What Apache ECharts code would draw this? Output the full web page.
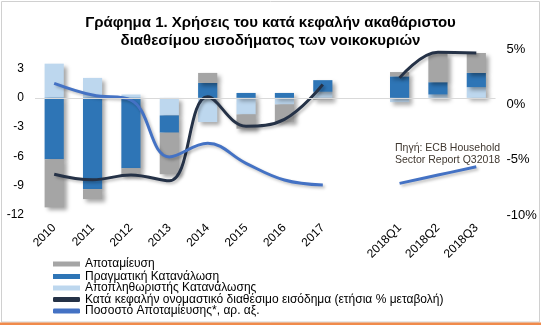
<!DOCTYPE html>
<html><head><meta charset="utf-8">
<script src="https://cdn.jsdelivr.net/npm/echarts@6/dist/echarts.min.js"></script>
<style>html,body{margin:0;padding:0;background:#fff}#c{width:541px;height:325px}</style>
</head><body><div id="c"></div>
<script>
var categories = ['2010','2011','2012','2013','2014','2015','2016','2017','','2018Q1','2018Q2','2018Q3'];
var saving      = [-4.93,-1.02,-0.7,-4.25,1.02,-1.46,-1.8,-0.2,'-',0.44,3.0,2.04];
var consumption = [-6.29,-9.35,-7.2,-1.77,1.53,0.5,0.5,1.19,'-',2.2,1.26,1.46];
var deflator    = [3.5,2.04,0.34,-1.8,-2.48,-1.7,-0.68,0.62,'-',-0.44,0.34,1.09];
var income      = [-7.82,-8.4,-7.9,-8.5,0.1,-2.9,-2.2,1.36,null,2.04,4.66,4.6];
var savingRate  = [1.9,0.84,0.39,-4.75,-3.52,-5.33,-6.84,-7.29,null,-7.14,-6.39,-5.64];
var leftTicks = [-12,-9,-6,-3,0,3];
var rightTicks = [-10,-5,0,5];
var names = ['Αποταμίευση','Πραγματική Κατανάλωση','Αποπληθωριστής Κατανάλωσης','Κατά κεφαλήν ονομαστικό διαθέσιμο εισόδημα (ετήσια % μεταβολή)','Ποσοστό Αποταμίευσης*, αρ. αξ.'];

var F = 'Liberation Sans, Arial, sans-serif';
var chart = echarts.init(document.getElementById('c'), null, {renderer:'canvas'});
var barShadow = {shadowBlur:4, shadowOffsetX:3, shadowOffsetY:3, shadowColor:'rgba(0,0,0,0.35)'};
function barSeries(name, data, color){
  return {name:name, type:'bar', stack:'s', data:data, barWidth:'50%', yAxisIndex:0,
    itemStyle:Object.assign({color:color}, barShadow)};
}
var legendTops = [258, 270.5, 282, 293.5, 305];
var legendIcons = ['rect','rect','rect','roundRect','roundRect'];
var legends = names.map(function(n, i){
  return {orient:'vertical', left:53, top:legendTops[i], itemWidth:27, itemHeight:5, padding:0,
    textStyle:{fontFamily:F, fontSize:12, color:'#000'}, data:[{name:n, icon:legendIcons[i]}]};
});
chart.setOption({
  animation:false,
  title:{text:'Γράφημα 1. Χρήσεις του κατά κεφαλήν ακαθάριστου\nδιαθεσίμου εισοδήματος των νοικοκυριών',
    left:'center', top:9, textStyle:{fontFamily:F, fontSize:15, fontWeight:'bold', color:'#000', lineHeight:18}},
  grid:{left:35, right:45.5, top:49, bottom:110},
  legend:legends,
  xAxis:{type:'category', data:categories, axisLine:{show:false}, axisTick:{show:false},
    axisLabel:{rotate:45, interval:0, margin:11, fontFamily:F, fontSize:12, color:'#000'}},
  yAxis:[
    {type:'value', min:-12, max:5, interval:3, splitLine:{show:false}, axisLine:{show:false}, axisTick:{show:false},
     axisLabel:{margin:11, fontFamily:F, fontSize:12, color:'#000', formatter:function(v){return leftTicks.indexOf(v)>=0?String(v):'';}}},
    {type:'value', min:-10, max:5, interval:5, splitLine:{show:false}, axisLine:{show:false}, axisTick:{show:false},
     axisLabel:{margin:11, fontFamily:F, fontSize:13, color:'#000', formatter:function(v){return rightTicks.indexOf(v)>=0?v+'%':'';}}}
  ],
  series:[
    Object.assign(barSeries(names[2], deflator, '#BDD7EE'), {markLine:{silent:true, symbol:'none', label:{show:false},
      lineStyle:{color:'#D9D9D9', type:'solid', width:1}, data:[{yAxis:0}]}}),
    barSeries(names[1], consumption, '#2E75B6'),
    barSeries(names[0], saving, '#A5A5A5'),
    {name:names[3], type:'line', yAxisIndex:0, data:income, smooth:0.4, symbol:'none', connectNulls:false,
      lineStyle:{color:'#253247', width:3, shadowBlur:3, shadowOffsetX:2, shadowOffsetY:2, shadowColor:'rgba(0,0,0,0.25)'}, itemStyle:{color:'#253247'}},
    {name:names[4], type:'line', yAxisIndex:1, data:savingRate, smooth:0.4, symbol:'none', connectNulls:false,
      lineStyle:{color:'#4472C4', width:3, shadowBlur:3, shadowOffsetX:2, shadowOffsetY:2, shadowColor:'rgba(0,0,0,0.25)'}, itemStyle:{color:'#4472C4'}}
  ],
  graphic:[
    {type:'rect', shape:{x:1.5, y:1.5, width:538, height:320.5}, style:{fill:'none', stroke:'#D0D0D0', lineWidth:1}, silent:true},
    {type:'rect', shape:{x:0, y:322.5, width:541, height:2.5}, style:{fill:'#F08A4B'}, silent:true},
    {type:'text', left:395, top:142, style:{text:'Πηγή: ECB Household\nSector Report Q32018', font:'10.5px Liberation Sans, Arial, sans-serif', fill:'#403830', lineHeight:12}, silent:true}
  ]
});
</script></body></html>
